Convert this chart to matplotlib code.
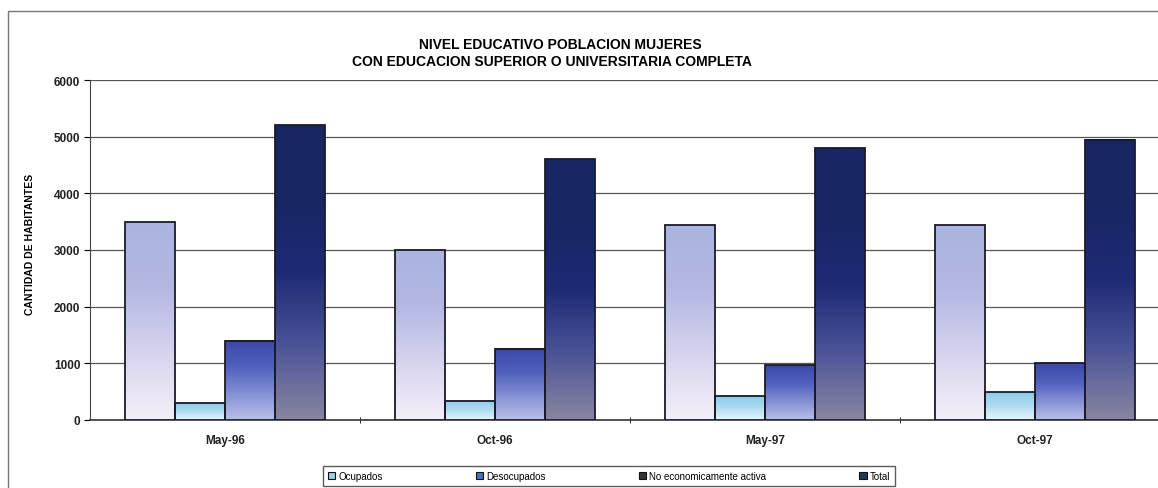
"""
Nivel educativo población mujeres con educación superior o universitaria completa.
Barras agrupadas por periodo, relleno degradado como en la hoja original.
"""

import matplotlib
matplotlib.use("Agg")
import matplotlib.pyplot as plt
import numpy as np
from matplotlib.colors import LinearSegmentedColormap
from matplotlib.patches import Patch, Rectangle

plt.rcParams["font.family"] = ["Liberation Sans", "DejaVu Sans"]

periodos = ["May-96", "Oct-96", "May-97", "Oct-97"]
ocupados = [3490, 3000, 3440, 3440]
desocupados = [300, 340, 420, 490]
no_activa = [1400, 1260, 970, 1000]
total = [5200, 4600, 4800, 4950]

SERIES = ["Ocupados", "Desocupados", "No economicamente activa", "Total"]
VALORES = [ocupados, desocupados, no_activa, total]
# degradados (abajo -> arriba)
DEGRADADOS = [
    ["#f4f0f8", "#d8d4ee", "#b4b8e2", "#aab4e0"],
    ["#e8f4fa", "#b0dcf0", "#8ccbea"],
    ["#b8c0e6", "#8490d4", "#5060bc", "#3c48a8"],
    ["#8a86a0", "#4c5498", "#1e2a74", "#182664", "#182664"],
]
COUL_LEGENDE = ["#9ccde8", "#3a78c0", "#333333", "#1d3a5c"]

W, H = 1158, 489
fig = plt.figure(figsize=(W / 100, H / 100), dpi=100)
ax = fig.add_axes([90 / W, (H - 421) / H, 1080 / W, 340 / H])

x = np.arange(len(periodos))
largo = 0.185
for i, (nom, val) in enumerate(zip(SERIES, VALORES)):
    pos = x + (i - 1.5) * largo
    barras = ax.bar(pos, val, width=largo, facecolor="none",
                    edgecolor="#1a1a2a", lw=1.3, zorder=4)
    cmap = LinearSegmentedColormap.from_list(nom, DEGRADADOS[i])
    grad = np.linspace(0, 1, 256).reshape(-1, 1)
    for b in barras:
        x0, h = b.get_x(), b.get_height()
        ax.imshow(grad, extent=[x0, x0 + largo, 0, h], origin="lower",
                  cmap=cmap, aspect="auto", zorder=3, interpolation="bilinear")

ax.set_xlim(-0.5, len(periodos) - 0.5)
ax.set_ylim(0, 6000)
ax.set_yticks(np.arange(0, 6001, 1000))
ax.set_yticklabels([f"{v}" for v in range(0, 6001, 1000)], fontsize=8.5,
                   fontweight="bold", color="#222222")
ax.set_xticks(x)
ax.set_xticklabels(periodos, fontsize=8.5, fontweight="bold", color="#222222")
ax.set_xticks(np.arange(0.5, len(periodos) - 0.5, 1), minor=True)
ax.tick_params(axis="x", which="major", length=0, pad=10)
ax.tick_params(axis="x", which="minor", length=4, direction="inout")
ax.tick_params(axis="y", length=4, direction="out", pad=3)
ax.grid(axis="y", color="#555555", lw=0.9, zorder=1)
for lado in ("top", "right"):
    ax.spines[lado].set_visible(False)
ax.spines["left"].set_color("#444444")
ax.spines["bottom"].set_color("#444444")
ax.spines["bottom"].set_linewidth(1.3)

ax.set_ylabel("CANTIDAD DE HABITANTES", fontsize=7.5, fontweight="bold")
ax.yaxis.set_label_coords(-(90 - 35) / 1080, 0.52)

fig.text(560 / W, 1 - 45 / H, "NIVEL EDUCATIVO POBLACION MUJERES",
         ha="center", va="center", fontsize=10, fontweight="bold")
fig.text(552 / W, 1 - 62 / H, "CON EDUCACION SUPERIOR O UNIVERSITARIA COMPLETA",
         ha="center", va="center", fontsize=10, fontweight="bold")

# cadre extérieur de la feuille
fig.patches.append(Rectangle((8 / W, -0.05), 1.1, 1 - 12 / H + 0.05,
                             transform=fig.transFigure, fill=False,
                             edgecolor="#777777", lw=1.0))

poignees = [Patch(facecolor=c, edgecolor="#111111", lw=0.8) for c in COUL_LEGENDE]
leg = fig.legend(poignees, SERIES, ncol=4, fontsize=7, mode="expand",
                 bbox_to_anchor=(318 / W, 0.0, (900 - 318) / W, (489 - 462) / H),
                 loc="upper left", frameon=True, fancybox=False,
                 handlelength=0.8, handleheight=0.8, handletextpad=0.3,
                 borderpad=0.5)
leg.get_frame().set_edgecolor("#333333")
leg.get_frame().set_linewidth(1.0)

fig.savefig("out.png", dpi=100)
